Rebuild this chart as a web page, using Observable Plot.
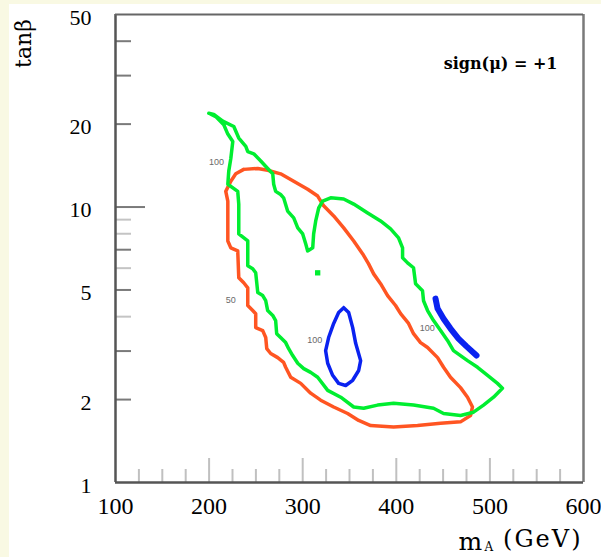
<!DOCTYPE html>
<html><head><meta charset="utf-8">
<script src="https://cdn.jsdelivr.net/npm/d3@7"></script>
<script src="https://cdn.jsdelivr.net/npm/@observablehq/plot@0.6"></script>
<style>
html,body{margin:0;padding:0;background:#f9f9e3;}
#chart{position:absolute;left:9px;top:4px;width:592px;height:553px;background:#fff;}
#chart svg{display:block;}
</style></head><body><div id="chart"></div>
<script>
// axis definitions
const xDomain = [100, 600];
const yDomain = [1, 50];
const xTicks = [100, 200, 300, 400, 500, 600];
const xMajorTicks = [200, 300, 400, 500];
const xMinorTicks = [125, 150, 175, 225, 250, 275, 325, 350, 375, 425, 450, 475, 525, 550, 575];
const yTicks = [1, 2, 5, 10, 20, 50];
const yTickLabels = ["1", "2", "5", "10", "20", "50"];
const yDarkTicks = [2, 3, 5, 7, 20, 30, 40];
const yLightTicks = [4, 6, 8, 9];
const yLongTicks = [10];

// contours [m_A (GeV), tanβ]
const redContour = [
  [237,13.7],[252,13.8],[262.6,13.6],[276.4,13.2],[290.4,12.4],[305.3,11.6],[316,10.96],[322.4,10.1],
  [333.1,9.28],[343.8,8.40],[354.5,7.53],[364.1,6.76],[370.4,6.22],[375.8,5.72],[383.2,5.27],[390.7,4.77],
  [399.2,4.39],[404.6,4.10],[413.1,3.78],[418.4,3.47],[425.9,3.22],[433.4,3.09],[444.1,2.84],[450.5,2.62],
  [457.9,2.41],[468.6,2.21],[476.1,2.04],[481.4,1.88],[479.3,1.75],[468.6,1.66],[447.3,1.64],[422.7,1.61],
  [397.1,1.59],[372.6,1.61],[359.8,1.68],[348,1.78],[333.1,1.88],[319.2,1.99],[308.5,2.11],[297.9,2.29],
  [287.2,2.41],[281.8,2.62],[279.6,2.73],[273.3,2.84],[265.8,2.94],[261.6,3.06],[260.5,3.36],[257.3,3.56],
  [249.8,3.65],[249.8,4.10],[246.6,4.21],[241.3,4.39],[241.3,5.09],[237,5.31],[231.7,5.54],[230.6,6.93],
  [223.2,7.11],[220,7.53],[220,10.5],[217.8,11.4],[223.2,12.4],[228.5,13.2]
];
const greenContour = [
  [199.7,21.9],[205,21.7],[214.6,20.5],[226.4,19.6],[231.7,17.8],[239.2,16.6],[241.3,15.9],[247.7,15.6],
  [255.2,14.7],[262.6,13.8],[268,13.2],[269,12.1],[271.1,11.4],[276.4,11.1],[279.6,10.8],[283.9,9.67],
  [290.4,9.13],[294.7,8.40],[300,7.99],[303.2,7.35],[305.3,6.93],[310.7,7.11],[311.7,7.99],[313.9,8.90],
  [317.1,9.92],[321.3,10.5],[329.9,10.8],[343.8,10.7],[354.5,10.25],[369.4,9.51],[383.2,8.90],[393.9,8.33],
  [402.4,7.73],[406.7,7.11],[406.7,6.54],[412,6.27],[418.4,6.02],[420.6,5.27],[428,4.97],[429.1,4.57],
  [433.4,4.21],[439.8,3.87],[447.3,3.56],[454.7,3.28],[461.1,3.01],[476.1,2.77],[486.8,2.62],[497.5,2.45],
  [508.1,2.29],[513.4,2.20],[503.9,2.04],[493.2,1.91],[482.5,1.80],[468.6,1.75],[450.5,1.78],[439.8,1.86],
  [418.4,1.91],[397.1,1.94],[380,1.91],[365.1,1.86],[354.5,1.88],[340.6,2.04],[326.7,2.16],[316,2.41],
  [308.5,2.51],[301.1,2.59],[294.7,2.71],[289.3,2.89],[285,3.06],[281.8,3.22],[276.4,3.36],[272.2,3.47],
  [271.1,3.87],[268,4.04],[262.6,4.21],[260.5,4.57],[257.3,4.77],[252,4.89],[249.8,5.77],[246.6,5.97],
  [241.3,6.12],[241.3,7.53],[231.7,7.99],[231.7,10.25],[230.6,11.4],[220,12.1],[221,13.5],[223.2,15.0],
  [225.3,17.3],[220,18.4],[215.7,19.9],[207.1,21.3]
];
const greenSpot = [[316, 5.77]];
const blueLoop = [
  [343.8,4.31],[349.1,4.14],[353.4,3.65],[356.6,3.20],[361.9,2.77],[359.8,2.55],[353.4,2.35],[345.9,2.25],
  [338.4,2.29],[332,2.45],[326.7,2.71],[324.5,3.01],[327.7,3.36],[333.1,3.78],[338.4,4.14]
];
const blueStreak = [
  [441.9,4.65],[444.1,4.28],[450.5,3.93],[457.9,3.62],[466.4,3.33],[475,3.12],[485.7,2.89]
];

// contour level labels
const labelX = [208, 223, 313, 433];
const labelY = [14.5, 4.61, 3.28, 3.65];
const labelText = ["100", "50", "100", "100"];

const RED = "#ff5522", GREEN = "#00ee30", BLUE = "#0a22f0";
const close = a => [...a, a[0]];
const labels = labelText.map((t, i) => ({x: labelX[i], y: labelY[i], t}));

const FW = 468, FH = 468;
const serif = "'DejaVu Serif', serif";
const plot = Plot.plot({
  width: 592, height: 553,
  marginLeft: 106, marginRight: 18, marginTop: 10, marginBottom: 75,
  x: {domain: xDomain},
  y: {type: "log", domain: yDomain},
  style: {background: "transparent", fontFamily: "'Liberation Serif', serif", color: "#000"},
  marks: [
    Plot.ruleX(xMinorTicks, {stroke: "#c0c0c0", strokeWidth: 2, insetTop: FH - 13}),
    Plot.ruleX(xMajorTicks, {stroke: "#c0c0c0", strokeWidth: 2, insetTop: FH - 24}),
    Plot.ruleY(yLightTicks, {stroke: "#c4c4c4", strokeWidth: 2, insetRight: FW - 16}),
    Plot.ruleY(yDarkTicks, {stroke: "#7a7a7a", strokeWidth: 2, insetRight: FW - 16}),
    Plot.ruleY(yLongTicks, {stroke: "#7a7a7a", strokeWidth: 2, insetRight: FW - 30}),
    Plot.ruleX([xDomain[0]], {stroke: "#555", strokeWidth: 2.5}),
    Plot.ruleX([xDomain[1]], {stroke: "#7a7a7a", strokeWidth: 2.5}),
    Plot.ruleY([yDomain[0]], {stroke: "#555", strokeWidth: 2.5}),
    Plot.ruleY([yDomain[1]], {stroke: "#666", strokeWidth: 2}),
    Plot.axisX({ticks: xTicks, tickSize: 0, tickPadding: 14, fontSize: 24, label: null, tickFormat: d => String(d)}),
    Plot.axisY({ticks: yTicks, tickSize: 0, tickPadding: 24, fontSize: 22, dy: 3, label: null,
      tickFormat: d => yTickLabels[yTicks.indexOf(d)]}),
    Plot.line(close(redContour), {x: d => d[0], y: d => d[1], stroke: RED, strokeWidth: 3.5, strokeLinejoin: "round"}),
    Plot.line(close(greenContour), {x: d => d[0], y: d => d[1], stroke: GREEN, strokeWidth: 3.5, strokeLinejoin: "round"}),
    Plot.dot(greenSpot, {x: d => d[0], y: d => d[1], symbol: "square", r: 3, fill: GREEN}),
    Plot.line(close(blueLoop), {x: d => d[0], y: d => d[1], stroke: BLUE, strokeWidth: 3.5, strokeLinejoin: "round"}),
    Plot.line(blueStreak, {x: d => d[0], y: d => d[1], stroke: BLUE, strokeWidth: 6, strokeLinejoin: "round"}),
    Plot.text(labels, {x: "x", y: "y", text: "t", fontSize: 9, fill: "#6a6a6a", fontFamily: "'Liberation Sans', sans-serif"}),
    Plot.text(["tanβ"], {frameAnchor: "top-left", textAnchor: "middle", lineAnchor: "middle", dx: -92, dy: 29, rotate: -90, fontSize: 22, fontFamily: serif, fill: "#000"}),
    Plot.text(["sign(μ) = +1"], {frameAnchor: "top-right", textAnchor: "end", lineAnchor: "middle", dx: -26, dy: 49, fontSize: 16, fontWeight: "bold", fontFamily: serif, fill: "#000"}),
    Plot.text(["m"], {frameAnchor: "bottom-right", textAnchor: "start", lineAnchor: "middle", dx: -125, dy: 59, fontSize: 25, fontFamily: serif, fill: "#000"}),
    Plot.text(["A"], {frameAnchor: "bottom-right", textAnchor: "start", lineAnchor: "middle", dx: -99, dy: 65, fontSize: 12, fontFamily: serif, fill: "#000"}),
    Plot.text(["(GeV)"], {frameAnchor: "bottom-right", textAnchor: "end", lineAnchor: "middle", dx: -1, dy: 57, fontSize: 24, fontFamily: serif, fill: "#000"})
  ]
});
d3.select(plot).selectAll("text").filter(function() { return this.textContent === "(GeV)"; }).attr("letter-spacing", 2);
document.getElementById("chart").appendChild(plot);
</script>
</body></html>
